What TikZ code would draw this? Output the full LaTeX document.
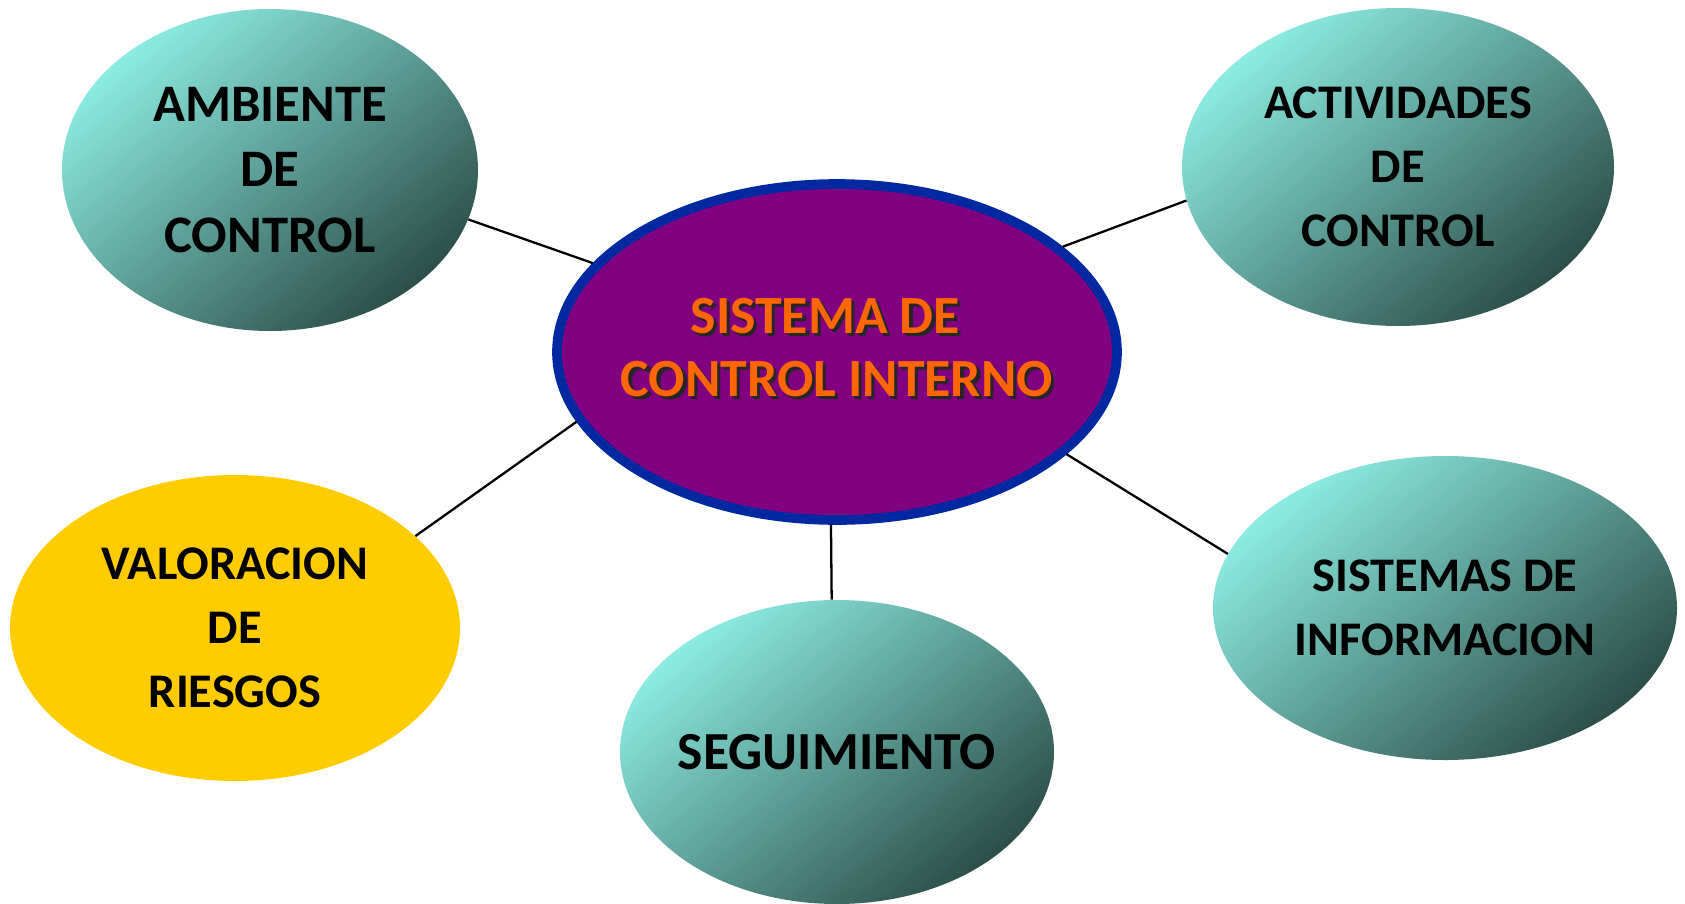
\documentclass[tikz,border=0pt]{standalone}
\usepackage{fontspec}
\setmainfont{Carlito}
\usepackage{tikz}
\usetikzlibrary{shapes.geometric}
\usetikzlibrary{positioning}
\definecolor{tealclaro}{RGB}{140,236,226}
\definecolor{tealmedio}{RGB}{112,196,186}
\definecolor{tealoscuro}{RGB}{44,78,72}
\definecolor{morado}{RGB}{128,0,128}
\definecolor{azulborde}{RGB}{0,40,160}
\definecolor{naranja}{RGB}{255,102,0}
\definecolor{amarillo}{RGB}{255,204,0}
\newcommand{\sombra}[1]{\makebox[0pt][l]{\hspace{1.8pt}\raisebox{-1.8pt}{\color{black!85}#1}}#1}
\tikzset{componente/.style={shape=ellipse, inner sep=0pt, align=center, font=\bfseries\fontsize{27.5}{36.5}\selectfont,
		top color=tealclaro, middle color=tealmedio, bottom color=tealoscuro, shading angle=40}}
\tikzset{enlace/.style={draw=black, line width=1.3pt}}

\begin{document}
\begin{tikzpicture}
		\useasboundingbox (0,0) rectangle (33.7,-18.06);
		\node[shape=ellipse, inner sep=0pt, minimum width=11.2cm, minimum height=6.72cm, fill=morado, draw=azulborde, line width=5.5pt, text=naranja, font=\bfseries\fontsize{30.6}{36.5}\selectfont] (SCI) at (16.74,-7.04) {\makebox[0pt]{\raisebox{-2pt}{\begin{tabular}{@{}c@{}}\sombra{SISTEMA DE}\rule{0.47cm}{0pt}\\[-0.3pt]\sombra{CONTROL INTERNO}\end{tabular}}}};
		\node[componente, minimum width=8.32cm, minimum height=6.44cm, font=\bfseries\fontsize{30}{37.5}\selectfont] (AMB) at (5.4,-3.4) {AMBIENTE\\DE\\CONTROL};
		\node[componente, minimum width=8.64cm, minimum height=6.36cm] (ACT) at (27.96,-3.34) {ACTIVIDADES\\DE\\CONTROL};
		\node[shape=ellipse, inner sep=0pt, minimum width=9.0cm, minimum height=6.12cm, fill=amarillo, align=center, font=\bfseries\fontsize{27.5}{36.5}\selectfont] (VAL) at (4.7,-12.56) {VALORACION\\DE\\RIESGOS};
		\node[componente, minimum width=8.68cm, minimum height=6.08cm, font=\bfseries\fontsize{30.5}{36.5}\selectfont] (SEG) at (16.74,-15.04) {\makebox[0pt]{SEGUIMIENTO}};
		\node[componente, minimum width=9.28cm, minimum height=6.08cm] (SIS) at (28.9,-12.16) {SISTEMAS DE\\INFORMACION};
		\path [enlace] (AMB.-14) edge (SCI.160);
		\path [enlace] (SCI.25) edge (ACT.-171);
		\path [enlace] (VAL.27) edge (SCI.195);
		\path [enlace] (SCI.-92.5) edge (SEG.92.8);
		\path [enlace] (SCI.-24) edge (SIS.166);
	\end{tikzpicture}
\end{document}
